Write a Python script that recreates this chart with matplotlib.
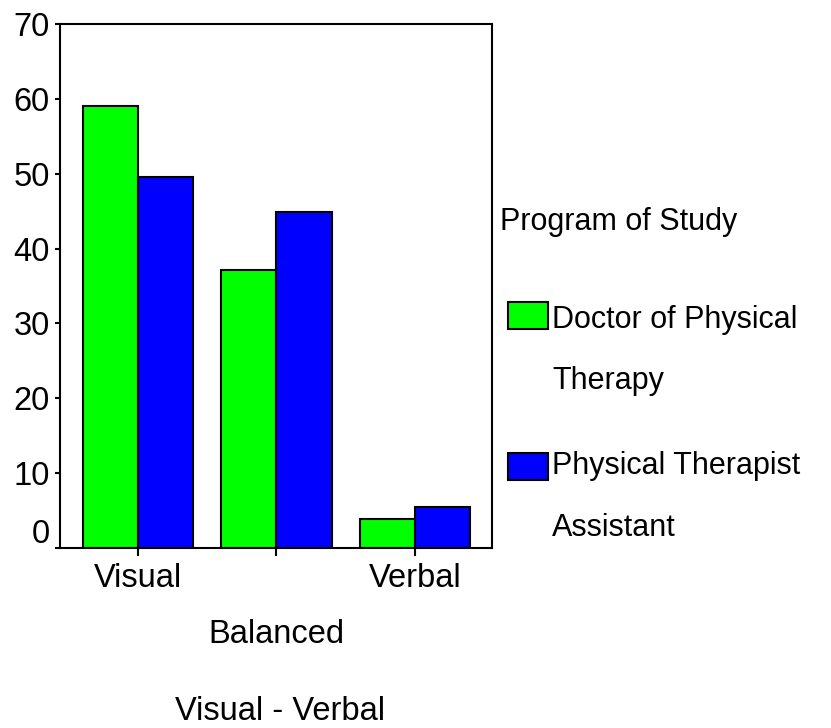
import matplotlib
matplotlib.use("Agg")
import matplotlib.pyplot as plt
import matplotlib.transforms as mtransforms
from matplotlib.patches import Rectangle
import numpy as np

plt.rcParams['font.family'] = ['Liberation Sans', 'DejaVu Sans']

# data (percent of each program)
categories = ['Visual', 'Balanced', 'Verbal']
programs = ['Doctor of Physical\nTherapy', 'Physical Therapist\nAssistant']
dpt = [59.0, 37.1, 3.9]
pta = [49.6, 44.9, 5.5]
colors = ['#00ff00', '#0000ff']

W, H = 831, 728
fig = plt.figure(figsize=(W / 100, H / 100), dpi=100)
ax = fig.add_axes([60 / W, 1 - 548 / H, 432 / W, 524 / H])

x = np.arange(len(categories))
bw = 0.4
ax.bar(x - bw / 2, dpt, bw, color=colors[0], edgecolor='black', linewidth=1.5)
ax.bar(x + bw / 2, pta, bw, color=colors[1], edgecolor='black', linewidth=1.5)

ax.set_xlim(-0.563, 2.556)
ax.set_ylim(0, 70)
ax.set_yticks(range(0, 71, 10))
ax.set_xticks(x)
ax.set_xticklabels(categories)

fs = 23.5
ax.tick_params(axis='both', labelsize=fs, direction='out', width=1.5, colors='black')
ax.tick_params(axis='y', length=3.5, pad=4)
ax.tick_params(axis='x', length=6, pad=5)
for s in ax.spines.values():
    s.set_linewidth(1.5)

# staggered middle label and raised zero label, as in the original
lbls = ax.get_xticklabels()
lbls[1].set_transform(lbls[1].get_transform() +
                      mtransforms.ScaledTranslation(0, -56 / 100, fig.dpi_scale_trans))
ylbls = ax.get_yticklabels()
ylbls[0].set_transform(ylbls[0].get_transform() +
                       mtransforms.ScaledTranslation(0, 17 / 100, fig.dpi_scale_trans))

ax.set_xlabel('Visual - Verbal', fontsize=fs, va='baseline')
ax.xaxis.set_label_coords((280 - 60) / 432, -(720 - 548) / 524)

# legend drawn by hand in figure pixels
def fx(px):
    return px / W

def fy(py):
    return 1 - py / H

lfs = 22
fig.text(fx(500), fy(222), 'Program of Study', fontsize=lfs, va='center', ha='left')
patch_tops = [302, 453]
text_rows = [(320, 381), (466, 528)]
for col, lab, top, rows in zip(colors, programs, patch_tops, text_rows):
    fig.patches.append(Rectangle((fx(508), fy(top + 27)), 40 / W, 27 / H,
                                 transform=fig.transFigure, facecolor=col,
                                 edgecolor='black', linewidth=1.5))
    for line, ry in zip(lab.split('\n'), rows):
        fig.text(fx(552), fy(ry), line, fontsize=lfs, va='center', ha='left')

fig.savefig('out.png', dpi=100)
